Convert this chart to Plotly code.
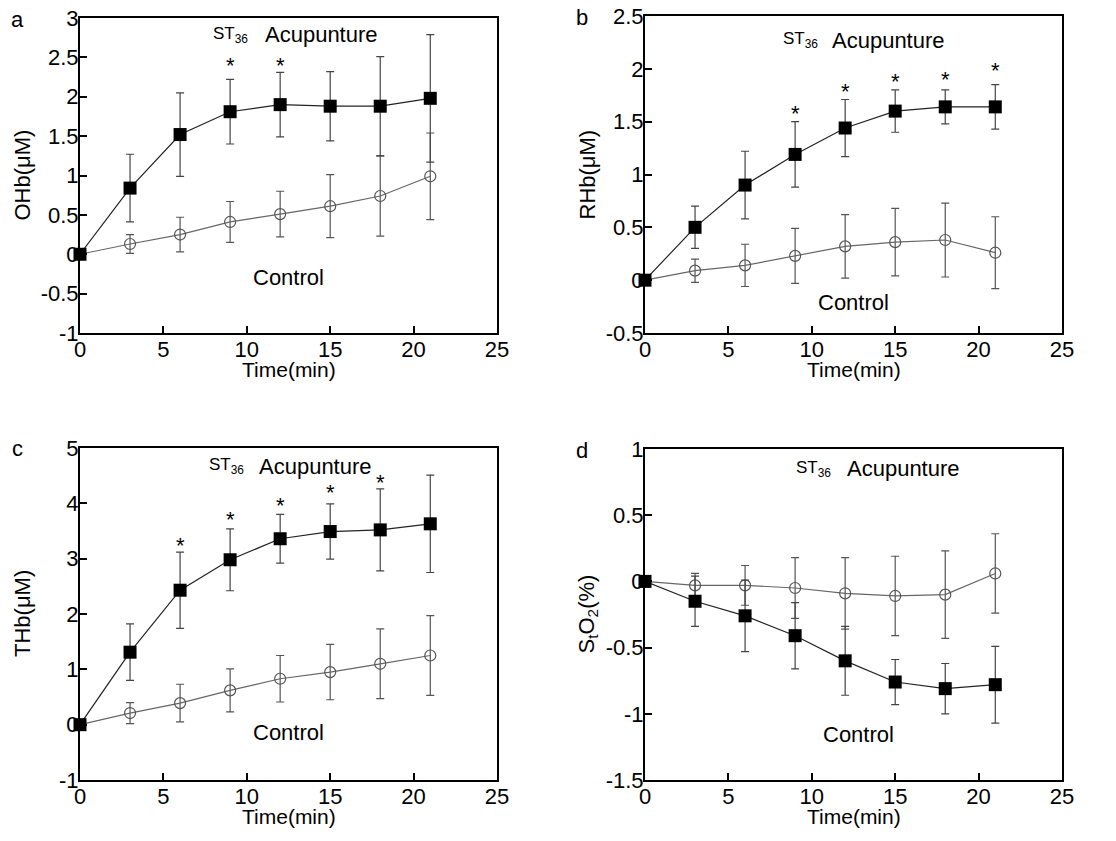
import plotly.graph_objects as go

time = [0, 3, 6, 9, 12, 15, 18, 21]

# Panel a: OHb
ohb_acu = [0, 0.84, 1.52, 1.81, 1.90, 1.88, 1.88, 1.98]
ohb_acu_sd = [0, 0.43, 0.53, 0.41, 0.41, 0.44, 0.63, 0.81]
ohb_ctl = [0, 0.13, 0.25, 0.41, 0.51, 0.61, 0.74, 0.99]
ohb_ctl_sd = [0, 0.12, 0.22, 0.26, 0.29, 0.40, 0.51, 0.55]
ohb_star_t = [9, 12]
ohb_star_y = [2.42, 2.42]

# Panel b: RHb
rhb_acu = [0, 0.50, 0.90, 1.19, 1.44, 1.60, 1.64, 1.64]
rhb_acu_sd = [0, 0.20, 0.32, 0.31, 0.27, 0.20, 0.16, 0.21]
rhb_ctl = [0, 0.09, 0.14, 0.23, 0.32, 0.36, 0.38, 0.26]
rhb_ctl_sd = [0, 0.11, 0.20, 0.26, 0.30, 0.32, 0.35, 0.34]
rhb_star_t = [9, 12, 15, 18, 21]
rhb_star_y = [1.60, 1.80, 1.90, 1.92, 2.00]

# Panel c: THb
thb_acu = [0, 1.31, 2.43, 2.98, 3.36, 3.49, 3.52, 3.63]
thb_acu_sd = [0, 0.51, 0.69, 0.56, 0.44, 0.50, 0.74, 0.88]
thb_ctl = [0, 0.21, 0.39, 0.62, 0.83, 0.95, 1.10, 1.25]
thb_ctl_sd = [0, 0.19, 0.34, 0.39, 0.42, 0.50, 0.63, 0.72]
thb_star_t = [6, 9, 12, 15, 18]
thb_star_y = [3.28, 3.75, 4.00, 4.23, 4.41]

# Panel d: StO2
sto_acu = [0, -0.15, -0.26, -0.41, -0.60, -0.76, -0.81, -0.78]
sto_acu_sd = [0, 0.19, 0.27, 0.25, 0.26, 0.17, 0.19, 0.29]
sto_ctl = [0, -0.03, -0.03, -0.05, -0.09, -0.11, -0.10, 0.06]
sto_ctl_sd = [0, 0.09, 0.15, 0.23, 0.27, 0.30, 0.33, 0.30]

panel_letters = ["a", "b", "c", "d"]
y_titles = ["OHb(μM)", "RHb(μM)", "THb(μM)", "S<sub>t</sub>O<sub>2</sub>(%)"]
x_ticks = [0, 5, 10, 15, 20, 25]
x_ticktext = ["0", "5", "10", "15", "20", "25"]
y_ticks = [
    [-1, -0.5, 0, 0.5, 1, 1.5, 2, 2.5, 3],
    [-0.5, 0, 0.5, 1, 1.5, 2, 2.5],
    [-1, 0, 1, 2, 3, 4, 5],
    [-1.5, -1, -0.5, 0, 0.5, 1],
]
y_ticktext = [
    ["-1", "-0.5", "0", "0.5", "1", "1.5", "2", "2.5", "3"],
    ["-0.5", "0", "0.5", "1", "1.5", "2", "2.5"],
    ["-1", "0", "1", "2", "3", "4", "5"],
    ["-1.5", "-1", "-0.5", "0", "0.5", "1"],
]
x_title = "Time(min)"

FONT = "Liberation Sans, Arial, sans-serif"
W, H = 1116, 841
OFF = 8  # page body margin offset compensation

# panel geometry in screen pixels (left, right, top, bottom)
boxes = [(80, 497, 18, 333), (645, 1062, 16, 333), (80, 497, 448, 780), (645, 1062, 449, 780)]


def px(x):
    return (x - OFF) / W


def py(y):
    return 1 - (y - OFF) / H


panels = [
    (ohb_acu, ohb_acu_sd, ohb_ctl, ohb_ctl_sd, ohb_star_t, ohb_star_y),
    (rhb_acu, rhb_acu_sd, rhb_ctl, rhb_ctl_sd, rhb_star_t, rhb_star_y),
    (thb_acu, thb_acu_sd, thb_ctl, thb_ctl_sd, thb_star_t, thb_star_y),
    (sto_acu, sto_acu_sd, sto_ctl, sto_ctl_sd, [], []),
]

# text positions in data coords: (st36_x, acu_x, label_y, control_x, control_y)
text_pos = [
    (9.0, 14.45, 2.79, 12.5, -0.30),
    (9.35, 14.6, 2.27, 12.5, -0.21),
    (8.8, 14.1, 4.67, 12.5, -0.15),
    (10.1, 15.5, 0.85, 12.8, -1.16),
]

fig = go.Figure()
annotations = []
layout = {}

for i, (acu, acu_sd, ctl, ctl_sd, st, sy) in enumerate(panels):
    n = "" if i == 0 else str(i + 1)
    xa, ya = "x" + n, "y" + n
    l, r, t, b = boxes[i]
    yr = [y_ticks[i][0], y_ticks[i][-1]]
    layout["xaxis" + n] = dict(
        domain=[px(l), px(r)], range=[0, 25], anchor=ya,
        tickmode="array", tickvals=x_ticks, ticktext=x_ticktext,
        showline=True, mirror=True, linecolor="black", linewidth=2,
        ticks="inside", ticklen=7, tickwidth=1.5, tickcolor="black",
        ticklabelstandoff=-4, ticklabeloverflow="allow",
        showgrid=False, zeroline=False,
        tickfont=dict(family=FONT, size=22, color="black"),
    )
    layout["yaxis" + n] = dict(
        domain=[py(b), py(t)], range=yr, anchor=xa,
        tickmode="array", tickvals=y_ticks[i], ticktext=y_ticktext[i],
        showline=True, mirror=True, linecolor="black", linewidth=2,
        ticks="inside", ticklen=7, tickwidth=1.5, tickcolor="black",
        ticklabelstandoff=-5, ticklabeloverflow="allow",
        showgrid=False, zeroline=False,
        tickfont=dict(family=FONT, size=22, color="black"),
    )
    # control
    fig.add_trace(go.Scatter(
        x=time, y=ctl, xaxis=xa, yaxis=ya, mode="lines+markers",
        line=dict(color="#666666", width=1.2),
        marker=dict(symbol="circle-open", size=11, color="#555555", line=dict(width=1.2)),
        error_y=dict(type="data", array=ctl_sd, visible=True, color="#555555", thickness=1.2, width=4),
        showlegend=False, cliponaxis=False,
    ))
    # acupuncture
    fig.add_trace(go.Scatter(
        x=time, y=acu, xaxis=xa, yaxis=ya, mode="lines+markers",
        line=dict(color="#222222", width=1.2),
        marker=dict(symbol="square", size=13, color="black"),
        error_y=dict(type="data", array=acu_sd, visible=True, color="#444444", thickness=1.2, width=4),
        showlegend=False, cliponaxis=False,
    ))
    # significance asterisks
    for sx_, sy_ in zip(st, sy):
        annotations.append(dict(x=sx_, y=sy_, xref=xa, yref=ya, text="*", showarrow=False,
                                yshift=-2, font=dict(family=FONT, size=22, color="black")))
    stx, acx, ly, cx, cy = text_pos[i]
    annotations.append(dict(x=stx, y=ly, xref=xa, yref=ya, text="ST<sub>36</sub>", showarrow=False,
                            font=dict(family=FONT, size=17, color="black")))
    annotations.append(dict(x=acx, y=ly, xref=xa, yref=ya, text="Acupunture", showarrow=False,
                            font=dict(family=FONT, size=22, color="black")))
    annotations.append(dict(x=cx, y=cy, xref=xa, yref=ya, text="Control", showarrow=False,
                            font=dict(family=FONT, size=22, color="black")))
    # panel letter
    annotations.append(dict(x=px(l - 63), y=py(t + 1), xref="paper", yref="paper",
                            text=panel_letters[i], showarrow=False, xanchor="center", yanchor="middle",
                            font=dict(family=FONT, size=22, color="black")))
    # x title
    annotations.append(dict(x=px((l + r) / 2), y=py(b + 36), xref="paper", yref="paper",
                            text=x_title, showarrow=False, xanchor="center", yanchor="middle",
                            font=dict(family=FONT, size=21, color="black")))
    # y title
    annotations.append(dict(x=px(l - 58), y=py((t + b) / 2), xref="paper", yref="paper",
                            text=y_titles[i], showarrow=False, textangle=-90,
                            xanchor="center", yanchor="middle",
                            font=dict(family=FONT, size=22, color="black")))

fig.update_layout(
    width=W, height=H, margin=dict(l=0, r=0, t=0, b=0, autoexpand=False),
    paper_bgcolor="white", plot_bgcolor="white",
    annotations=annotations, **layout,
)

fig.write_html("out.html")
